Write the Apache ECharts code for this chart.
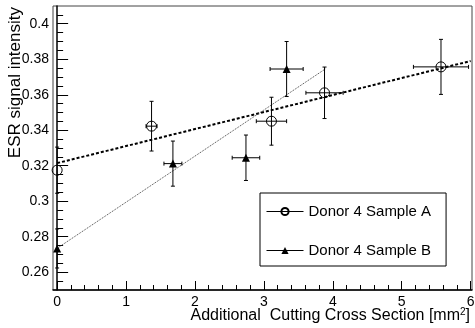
<!DOCTYPE html>
<html>
<head>
<meta charset="utf-8">
<script src="https://cdn.jsdelivr.net/npm/echarts@6/dist/echarts.min.js"></script>
<style>
html, body { margin: 0; padding: 0; background: #fff; }
#chart { width: 475px; height: 328px; }
</style>
</head>
<body>
<div id="chart"></div>
<script>
// Donor 4 sample A (open circles)
var sampleAX = [0, 1.37, 3.11, 3.88, 5.57];
var sampleAY = [0.3175, 0.3423, 0.3451, 0.3611, 0.3757];
var sampleAXErr = [0, 0.08, 0.22, 0.27, 0.4];
var sampleAYErr = [0.013, 0.014, 0.0135, 0.0145, 0.0155];

// Donor 4 sample B (filled triangles)
var sampleBX = [0, 1.68, 2.74, 3.33];
var sampleBY = [0.2734, 0.3212, 0.3245, 0.3745];
var sampleBXErr = [0, 0.13, 0.2, 0.24];
var sampleBYErr = [0.011, 0.0127, 0.0128, 0.0155];

// linear fits (end points)
var fitAX = [0, 6];
var fitAY = [0.3215, 0.379];
var fitBX = [0, 3.89];
var fitBY = [0.2735, 0.3745];

var xTicks = [0, 1, 2, 3, 4, 5, 6];
var yTicks = [0.26, 0.28, 0.3, 0.32, 0.34, 0.36, 0.38, 0.4];

var nameA = 'Donor 4 Sample A';
var nameB = 'Donor 4 Sample B';
var xTitle = 'Additional  Cutting Cross Section [mm{sup|2}]';
var yTitle = 'ESR signal intensity';

// minor ticks: 5 per unit on x, 4 per 0.02 on y
var xMinor = [], yMinor = [];
for (var i = 0; i <= 30; i++) { if (i % 5) xMinor.push(Math.round(i * 0.2 * 100) / 100); }
for (var j = 51; j <= 81; j++) { if (j % 4 != 0) yMinor.push(Math.round(j * 0.005 * 1000) / 1000); }

function zip(a, b, c, d) {
	var out = [];
	for (var k = 0; k < a.length; k++) out.push(d ? [a[k], b[k], c[k], d[k]] : [a[k], b[k]]);
	return out;
}

var font = 'Liberation Sans';
var ink = '#000';

// error bars drawn through the markers, with tiny end caps
function errorBars(params, api) {
	var x = api.value(0), y = api.value(1), ex = api.value(2), ey = api.value(3);
	var st = { stroke: ink, lineWidth: 1 };
	var kids = [];
	var lo = api.coord([x, y - ey]), hi = api.coord([x, y + ey]);
	kids.push({ type: 'line', shape: { x1: lo[0], y1: lo[1], x2: hi[0], y2: hi[1] }, style: st });
	kids.push({ type: 'line', shape: { x1: lo[0] - 2, y1: lo[1], x2: lo[0] + 2, y2: lo[1] }, style: st });
	kids.push({ type: 'line', shape: { x1: hi[0] - 2, y1: hi[1], x2: hi[0] + 2, y2: hi[1] }, style: st });
	if (ex > 0) {
		var le = api.coord([x - ex, y]), ri = api.coord([x + ex, y]);
		kids.push({ type: 'line', shape: { x1: le[0], y1: le[1], x2: ri[0], y2: ri[1] }, style: st });
		kids.push({ type: 'line', shape: { x1: le[0], y1: le[1] - 2, x2: le[0], y2: le[1] + 2 }, style: st });
		kids.push({ type: 'line', shape: { x1: ri[0], y1: ri[1] - 2, x2: ri[0], y2: ri[1] + 2 }, style: st });
	}
	return { type: 'group', children: kids };
}

var myChart = echarts.init(document.getElementById('chart'));

var xMain = {
	type: 'value', min: -0.06, max: 6.02,
	axisLine: { lineStyle: { color: ink, width: 1.5 } },
	axisTick: { inside: true, length: 9, customValues: xTicks, lineStyle: { color: ink } },
	axisLabel: { customValues: xTicks, fontFamily: font, fontSize: 14, color: ink, margin: 5 },
	splitLine: { show: false }
};
var xMinorAxis = {
	type: 'value', min: -0.06, max: 6.02, position: 'bottom',
	axisLine: { show: false },
	axisTick: { inside: true, length: 5, customValues: xMinor, lineStyle: { color: ink } },
	axisLabel: { show: false },
	splitLine: { show: false }
};
var yMain = {
	type: 'value', min: 0.25, max: 0.41,
	axisLine: { lineStyle: { color: ink, width: 1.5 } },
	axisTick: { inside: true, length: 11, customValues: yTicks, lineStyle: { color: ink } },
	axisLabel: { customValues: yTicks, fontFamily: font, fontSize: 14, color: ink, margin: 4 },
	splitLine: { show: false }
};
var yMinorAxis = {
	type: 'value', min: 0.25, max: 0.41, position: 'left',
	axisLine: { show: false },
	axisTick: { inside: true, length: 6, customValues: yMinor, lineStyle: { color: ink } },
	axisLabel: { show: false },
	splitLine: { show: false }
};

var option = {
	animation: false,
	backgroundColor: '#fff',
	textStyle: { fontFamily: font },
	grid: {
		left: 53, top: 6, right: 3, bottom: 38,
		containLabel: false, outerBoundsMode: 'none',
		show: true, borderColor: '#444', borderWidth: 1
	},
	// axis titles, ROOT style: aligned to the far end of each axis
	graphic: [
		{
			type: 'text', x: 15, y: 7, rotation: Math.PI / 2,
			style: { text: yTitle, fontFamily: font, fontSize: 17, fill: ink, align: 'right', verticalAlign: 'middle' }
		},
		{
			type: 'text', x: 470, y: 316,
			style: {
				text: xTitle, fontFamily: font, fontSize: 16, fill: ink, align: 'right', verticalAlign: 'middle',
				rich: { sup: { fontFamily: font, fontSize: 10, fill: ink, verticalAlign: 'top', padding: [0, 0, 8, 0] } }
			}
		}
	],
	legend: {
		data: [nameA, nameB],
		orient: 'vertical', left: 260, top: 193,
		padding: [11, 15, 8, 6],
		itemWidth: 37, itemHeight: 9, itemGap: 24,
		backgroundColor: '#fff', borderColor: ink, borderWidth: 1,
		selectedMode: false,
		lineStyle: { color: ink, width: 1, type: 'solid', opacity: 1 },
		textStyle: { fontFamily: font, fontSize: 15, color: ink }
	},
	xAxis: [xMain, xMinorAxis],
	yAxis: [yMain, yMinorAxis],
	series: [
		{
			name: 'fit A', type: 'line', data: zip(fitAX, fitAY), symbol: 'none', silent: true,
			lineStyle: { color: ink, width: 2, type: [3, 2] }, z: 2
		},
		{
			name: 'fit B', type: 'line', data: zip(fitBX, fitBY), symbol: 'none', silent: true,
			lineStyle: { color: '#444', width: 1, type: [1, 1] }, z: 2
		},
		{
			type: 'custom', renderItem: errorBars, silent: true, z: 3,
			dimensions: ['x', 'y', 'ex', 'ey'], encode: { x: 0, y: 1 },
			data: zip(sampleAX, sampleAY, sampleAXErr, sampleAYErr).concat(zip(sampleBX, sampleBY, sampleBXErr, sampleBYErr))
		},
		{
			name: nameA, type: 'line', data: zip(sampleAX, sampleAY), z: 4,
			symbol: 'circle', symbolSize: 10, showAllSymbol: true,
			lineStyle: { opacity: 0 },
			itemStyle: { color: 'rgba(0,0,0,0)', borderColor: ink, borderWidth: 1 }
		},
		{
			name: nameB, type: 'line', data: zip(sampleBX, sampleBY), z: 4,
			symbol: 'triangle', symbolSize: 8, showAllSymbol: true,
			lineStyle: { opacity: 0 },
			itemStyle: { color: ink, borderWidth: 0 }
		}
	]
};
myChart.setOption(option);
</script>
</body>
</html>
